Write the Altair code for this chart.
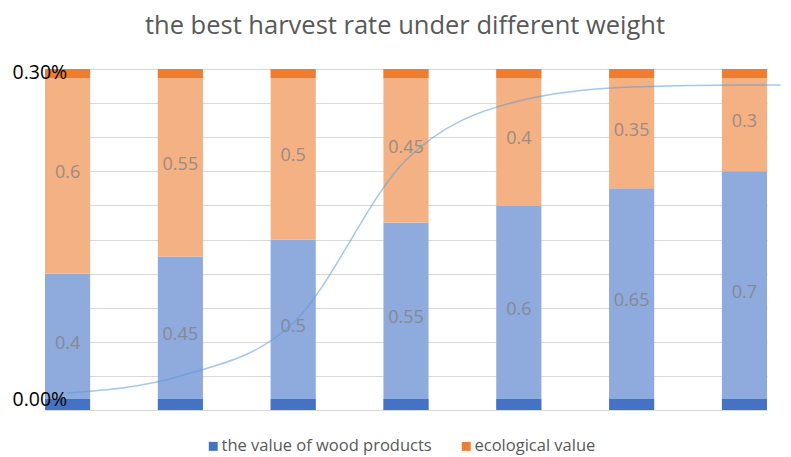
import altair as alt
import pandas as pd

# ---- data ----
categories = ["1", "2", "3", "4", "5", "6", "7"]
wood_values = [0.4, 0.45, 0.5, 0.55, 0.6, 0.65, 0.7]
eco_values = [0.6, 0.55, 0.5, 0.45, 0.4, 0.35, 0.3]
series_names = ["the value of wood products", "ecological value"]

# smoothed harvest-rate curve (secondary axis), x in category units
line_x = [1, 2, 3, 4, 5, 6, 7, 7.32]
line_rate = [0.000055, 0.000211, 0.000697, 0.002193, 0.002734, 0.002862, 0.002881, 0.002881]
rate_ticks = [0.0, 0.003]

# ---- tables ----
rows = []
for c, w, e in zip(categories, wood_values, eco_values):
    rows.append({"cat": c, "series": series_names[0], "value": w, "ord": 0})
    rows.append({"cat": c, "series": series_names[1], "value": e, "ord": 1})
df = pd.DataFrame(rows)
line_df = pd.DataFrame({"x": line_x, "rate": line_rate})

LIGHT = ["#8FAADC", "#F4B183"]
DARK = ["#4472C4", "#ED7D31"]
FONT = "Open Sans"

xscale = alt.Scale(type="band", domain=categories, range=[33, 755], paddingInner=0.6, paddingOuter=0)
yscale = alt.Scale(domain=[0, 1])
X = alt.X("cat:N", scale=xscale, axis=None, sort=categories)

base = alt.Chart(df)

bars = base.mark_bar().encode(
    x=X,
    y=alt.Y(
        "value:Q",
        stack="zero",
        scale=yscale,
        axis=alt.Axis(
            orient="left",
            values=[i / 10 for i in range(11)],
            labels=False, ticks=False, domain=False, title=None,
            grid=True, gridColor="#D9D9D9", gridWidth=1,
        ),
    ),
    color=alt.Color("series:N", scale=alt.Scale(domain=series_names, range=LIGHT), legend=None),
    order=alt.Order("ord:Q", sort="ascending"),
)

labels = base.mark_text(
    font=FONT, fontSize=18, color="#7F7F7F", opacity=0.75, baseline="middle", align="center", dy=2
).transform_joinaggregate(
    total="sum(value)", groupby=["cat"]
).transform_calculate(
    ly="datum.ord == 0 ? datum.value / 2 : datum.total - datum.value / 2"
).encode(
    x=X,
    y=alt.Y("ly:Q", scale=yscale, axis=None),
    text=alt.Text("value:Q", format="~g"),
)

strip_color = alt.Color(
    "series:N",
    scale=alt.Scale(domain=series_names, range=DARK),
    legend=alt.Legend(
        title=None, orient="none", direction="horizontal",
        legendX=193, legendY=369,
        symbolType="square", symbolSize=80, symbolStrokeWidth=0,
        labelFont=FONT, labelFontSize=16.5, labelColor="#595959",
        labelOffset=0, columnPadding=26, labelLimit=400,
    ),
)

strips_base = base.transform_joinaggregate(
    total="sum(value)", groupby=["cat"]
).transform_calculate(
    sy="datum.ord == 0 ? 0 : datum.total"
)

strip_bottom = strips_base.transform_filter("datum.ord == 0").mark_tick(
    orient="horizontal", size=45, thickness=11, yOffset=-5.5, opacity=1
).encode(x=X, y=alt.Y("sy:Q", scale=yscale, axis=None), color=strip_color)

strip_top = strips_base.transform_filter("datum.ord == 1").mark_tick(
    orient="horizontal", size=45, thickness=9, yOffset=4.5, opacity=1
).encode(x=X, y=alt.Y("sy:Q", scale=yscale, axis=None), color=strip_color)

strips = alt.layer(strip_bottom, strip_top)

line = alt.Chart(line_df).mark_line(
    interpolate="monotone", color="#5B9BD5", strokeWidth=1.5, opacity=0.55
).encode(
    x=alt.X("x:Q", scale=alt.Scale(domain=[1, 7], range=[55.5, 732.5]), axis=None),
    y=alt.Y(
        "rate:Q",
        scale=alt.Scale(domain=[0, 0.003], range=[330, 3]),
        axis=alt.Axis(
            orient="left", values=rate_ticks, format=".2%",
            labelAlign="left", labelPadding=0, ticks=False, tickSize=0,
            domain=False, grid=False, title=None, zindex=2, labelLimit=200,
            labelFont=FONT, labelFontSize=19.5, labelColor="#000000",
        ),
    ),
)

chart = alt.layer(bars, strips, labels, line).resolve_scale(
    color="independent", y="independent", x="independent"
).properties(
    width=768,
    height=341,
    padding={"left": 4, "top": 61, "right": 3, "bottom": 46},
    autosize=alt.AutoSizeParams(type="none"),
    title=alt.TitleParams(
        "the best harvest rate under different weight",
        font=FONT, fontSize=25.5, fontWeight="normal", color="#595959",
        anchor="middle", offset=23, dx=9,
    ),
).configure_view(stroke=None)

chart.save("out.html", embed_options={"renderer": "svg", "actions": False})
